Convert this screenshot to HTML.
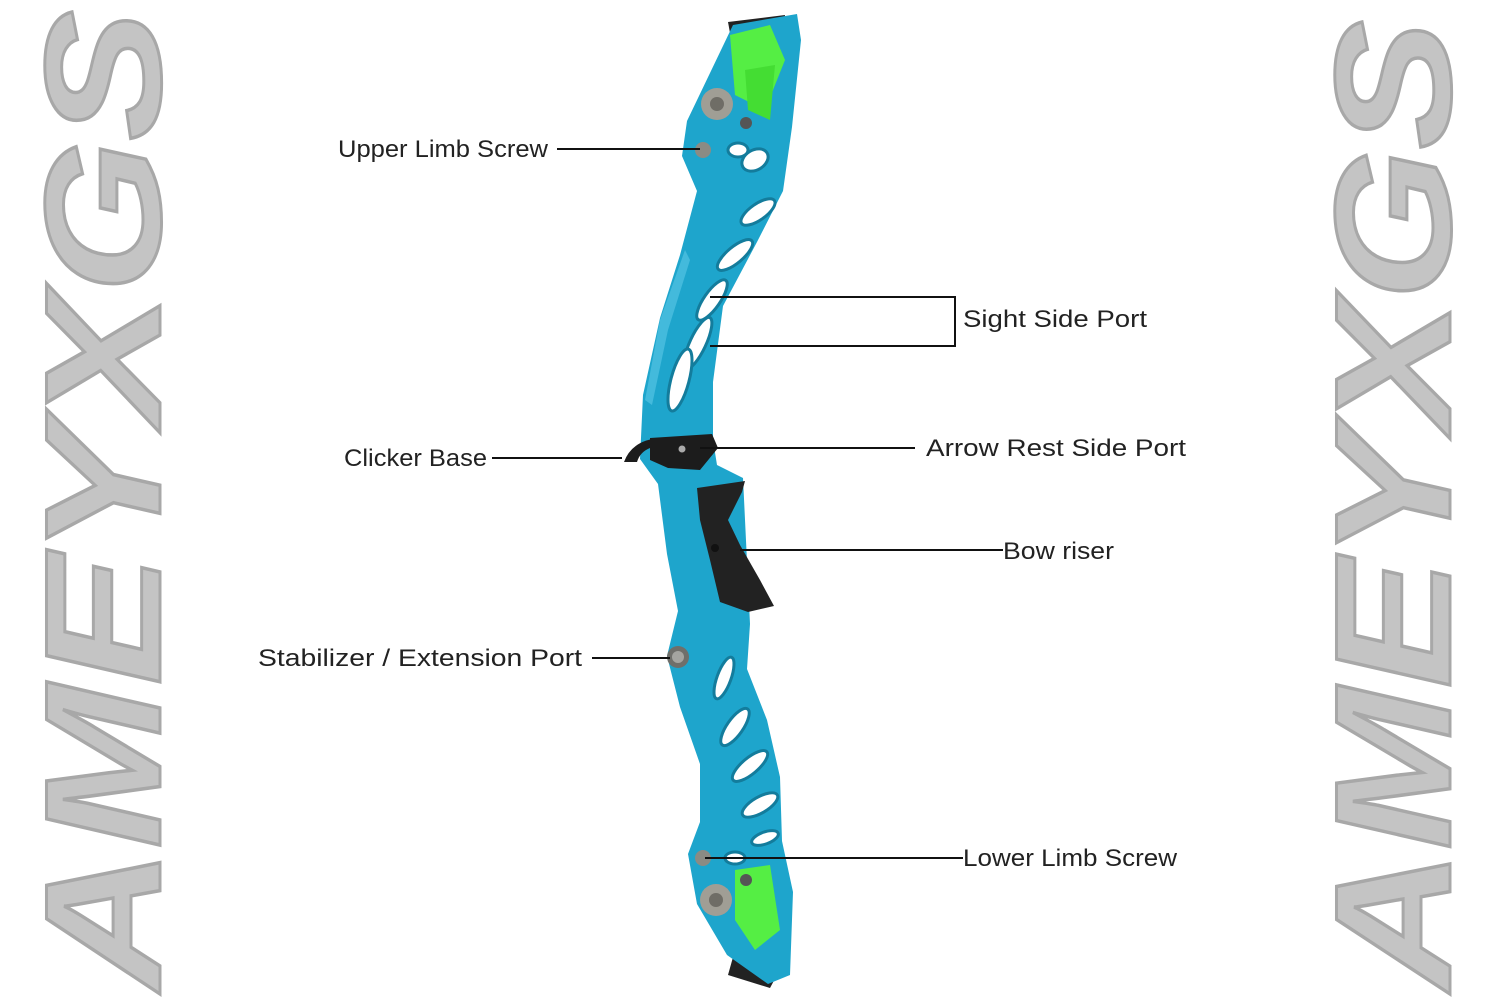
<!DOCTYPE html>
<html><head><meta charset="utf-8"><style>
html,body{margin:0;padding:0;background:#fff;}
svg{display:block;}
</style></head><body>
<svg width="1500" height="1000" viewBox="0 0 1500 1000" xmlns="http://www.w3.org/2000/svg">
<g font-family="Liberation Sans, sans-serif" font-weight="bold" font-style="italic" font-size="165" fill="#c4c4c4" stroke="#a8a8a8" stroke-width="3">
  <text transform="translate(160,990) rotate(-90)" textLength="980" lengthAdjust="spacingAndGlyphs">AMEYXGS</text>
  <text transform="translate(1450,990) rotate(-90)" textLength="970" lengthAdjust="spacingAndGlyphs">AMEYXGS</text>
</g>
<!-- limb pads -->
<path d="M728,22 L785,15 L780,60 L735,60 Z" fill="#222"/>
<path d="M728,975 L770,988 L785,960 L735,950 Z" fill="#222"/>
<!-- riser -->
<path d="M797,14 L801,40 L792,127 L783,191 L757,242 L723,306 L713,382 L713,440 L717,465 L743,478 L750,624 L747,669 L767,720 L780,777 L782,841 L793,892 L790,975 L768,984 L727,955 L697,904 L688,854 L700,822 L700,764 L680,707 L667,656 L678,611 L667,554 L658,484 L640,459 L643,395 L660,318 L680,255 L697,191 L682,156 L687,121 L733,25 Z" fill="#1ea5cc"/>
<path d="M645,400 L660,320 L685,250 L690,260 L668,330 L652,405 Z" fill="#5cc8e6" opacity="0.6"/>
<!-- green inserts -->
<path d="M730,35 L770,25 L785,60 L765,110 L735,95 Z" fill="#55ee44"/>
<path d="M745,70 L775,65 L770,120 L748,110 Z" fill="#44dd33"/>
<path d="M735,870 L770,865 L780,930 L755,950 L735,920 Z" fill="#55ee44"/>
<!-- white slots -->
<g fill="#fff" stroke="#137c9c" stroke-width="3">
  <ellipse cx="755" cy="160" rx="14" ry="10" transform="rotate(-30 755 160)"/>
  <ellipse cx="758" cy="212" rx="20" ry="8" transform="rotate(-35 758 212)"/>
  <ellipse cx="735" cy="255" rx="22" ry="8" transform="rotate(-40 735 255)"/>
  <ellipse cx="712" cy="300" rx="24" ry="8" transform="rotate(-55 712 300)"/>
  <ellipse cx="698" cy="343" rx="28" ry="8" transform="rotate(-65 698 343)"/>
  <ellipse cx="680" cy="380" rx="32" ry="9" transform="rotate(-75 680 380)"/>
  <ellipse cx="724" cy="678" rx="22" ry="7" transform="rotate(-70 724 678)"/>
  <ellipse cx="735" cy="727" rx="22" ry="8" transform="rotate(-55 735 727)"/>
  <ellipse cx="750" cy="766" rx="22" ry="8" transform="rotate(-40 750 766)"/>
  <ellipse cx="760" cy="805" rx="20" ry="8" transform="rotate(-30 760 805)"/>
  <ellipse cx="765" cy="838" rx="14" ry="6" transform="rotate(-20 765 838)"/>
  <ellipse cx="738" cy="150" rx="10" ry="7"/>
  <ellipse cx="735" cy="858" rx="10" ry="6"/>
</g>
<circle cx="717" cy="104" r="16" fill="#a09e95"/>
<circle cx="717" cy="104" r="7" fill="#6f6d66"/>
<circle cx="716" cy="900" r="16" fill="#a09e95"/>
<circle cx="716" cy="900" r="7" fill="#6f6d66"/>
<circle cx="746" cy="123" r="6" fill="#555"/>
<circle cx="746" cy="880" r="6" fill="#555"/>
<circle cx="703" cy="150" r="8" fill="#8b8b84"/>
<circle cx="703" cy="858" r="8" fill="#8b8b84"/>
<circle cx="678" cy="657" r="11" fill="#6f6f6a"/>
<circle cx="678" cy="657" r="6" fill="#a5a5a0"/>
<!-- grip -->
<path d="M697,488 L745,481 L742,492 L728,520 L740,545 L760,580 L774,606 L748,612 L720,602 L710,560 L700,520 Z" fill="#222"/>
<circle cx="715" cy="548" r="4" fill="#111"/>
<!-- clicker -->
<path d="M650,438 L712,434 L718,448 L700,470 L668,468 L650,460 Z" fill="#1c1c1c"/>
<path d="M624,462 Q632,440 660,438 L650,448 Q640,452 637,462 Z" fill="#1c1c1c"/>
<circle cx="682" cy="449" r="3.5" fill="#aaa"/>
<!-- lines -->
<g stroke="#111" stroke-width="2" fill="none">
  <line x1="557" y1="149" x2="700" y2="149"/>
  <polyline points="710,297 955,297 955,346 710,346"/>
  <line x1="492" y1="458" x2="622" y2="458"/>
  <line x1="700" y1="448" x2="915" y2="448"/>
  <line x1="740" y1="550" x2="1003" y2="550"/>
  <line x1="592" y1="658" x2="670" y2="658"/>
  <line x1="705" y1="858" x2="963" y2="858"/>
</g>
<g font-family="Liberation Sans, sans-serif" font-size="24" fill="#222">
  <text x="338" y="157" textLength="210" lengthAdjust="spacingAndGlyphs">Upper Limb Screw</text>
  <text x="963" y="327" textLength="184" lengthAdjust="spacingAndGlyphs">Sight Side Port</text>
  <text x="344" y="466" textLength="143" lengthAdjust="spacingAndGlyphs">Clicker Base</text>
  <text x="926" y="456" textLength="260" lengthAdjust="spacingAndGlyphs">Arrow Rest Side Port</text>
  <text x="1003" y="559" textLength="111" lengthAdjust="spacingAndGlyphs">Bow riser</text>
  <text x="258" y="666" textLength="324" lengthAdjust="spacingAndGlyphs">Stabilizer / Extension Port</text>
  <text x="963" y="866" textLength="214" lengthAdjust="spacingAndGlyphs">Lower Limb Screw</text>
</g>
</svg>
</body></html>
